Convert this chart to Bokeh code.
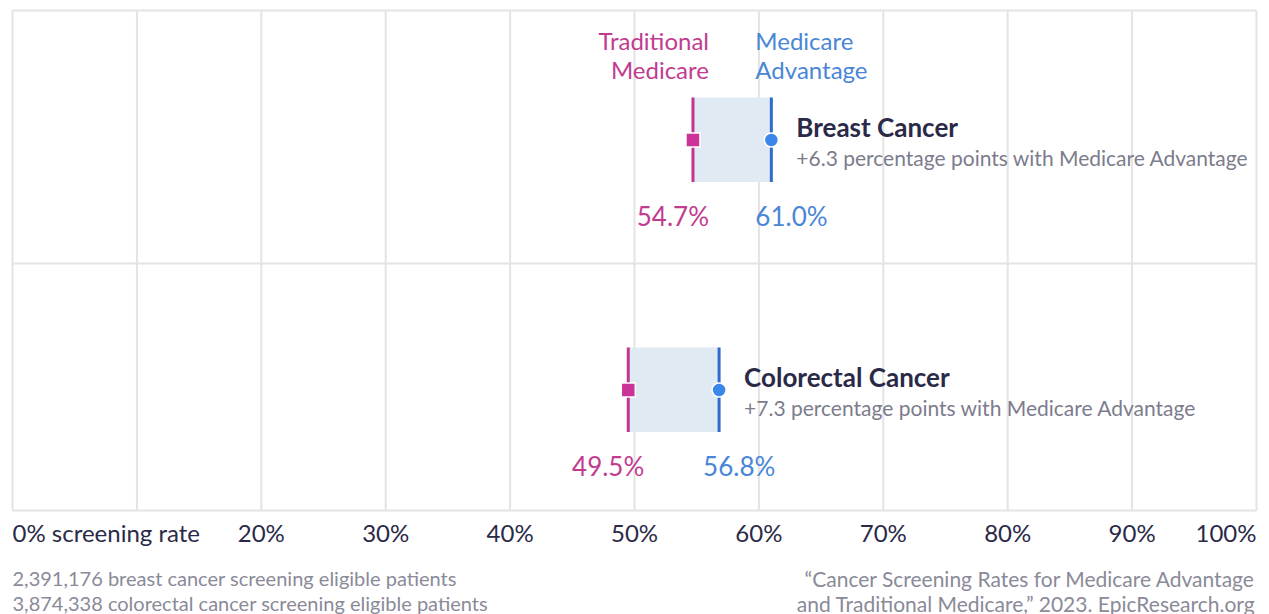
from bokeh.plotting import figure
from bokeh.models import Range1d, ColumnDataSource
from bokeh.core.properties import value
from bokeh.embed import file_html
from bokeh.resources import INLINE

# ---- data ----
categories = ["Breast Cancer", "Colorectal Cancer"]
traditional = [54.7, 49.5]
advantage = [61.0, 56.8]
tick_values = [0, 20, 30, 40, 50, 60, 70, 80, 90, 100]
tick_labels = ["0% screening rate", "20%", "30%", "40%", "50%", "60%", "70%", "80%", "90%", "100%"]
grid_values = [0, 10, 20, 30, 40, 50, 60, 70, 80, 90, 100]
footnote_left = ["2,391,176 breast cancer screening eligible patients",
                 "3,874,338 colorectal cancer screening eligible patients"]
footnote_right = ["\u201cCancer Screening Rates for Medicare Advantage",
                  "and Traditional Medicare,\u201d 2023. EpicResearch.org"]

FONT = value("Lato")
MAGENTA = "#c2368f"
MAGENTA_TXT = "#c13c90"
BLUE = "#2f6bcc"
BLUE_DOT = "#3a86ea"
BLUE_TXT = "#4a86d6"
NAVY = "#2a2a48"
GRAY = "#7c7c8c"
FOOT = "#8a8a98"
GRID = "#e4e4e4"

W, H = 1266, 614
LEFT, RIGHT = 12, 1256
TOP, ROW_H = 10, 250
px_per = (RIGHT - LEFT) / 100
x0 = -LEFT / px_per
x1 = 100 + (W - RIGHT) / px_per
y_top = -TOP / ROW_H
y_bot = (H - TOP) / ROW_H

p = figure(width=W, height=H, output_backend="svg", toolbar_location=None,
           x_range=Range1d(x0, x1), y_range=Range1d(y_bot, y_top),
           min_border=0, outline_line_color=None)
p.axis.visible = False
p.grid.visible = False
p.background_fill_color = "white"
p.border_fill_color = "white"

n = len(categories)
rows = list(range(n))
src = ColumnDataSource(dict(
    row=rows,
    cat=categories,
    tm=traditional,
    ma=advantage,
    box_top=[r + 0.348 for r in rows],
    box_bot=[r + 0.686 for r in rows],
    mid=[r + 0.518 for r in rows],
    val_y=[r + 0.82 for r in rows],
    title_y=[r + 0.464 for r in rows],
    sub_y=[r + 0.588 for r in rows],
    tm_lbl=["%.1f%%" % v for v in traditional],
    ma_lbl=["%.1f%%" % v for v in advantage],
    sub=["+%.1f percentage points with Medicare Advantage" % (a - t) for a, t in zip(advantage, traditional)],
))

# grid
p.segment(x0=grid_values, x1=grid_values, y0=[0] * len(grid_values), y1=[n] * len(grid_values),
          line_color=GRID, line_width=2)
p.segment(x0=[0] * (n + 1), x1=[100] * (n + 1), y0=[0, 1.012, 2], y1=[0, 1.012, 2],
          line_color=GRID, line_width=2)

# range boxes
p.quad(left="tm", right="ma", top="box_top", bottom="box_bot", source=src,
       fill_color="#e0eaf3", line_color=None)
p.segment(x0="tm", x1="tm", y0="box_top", y1="box_bot", source=src, line_color=MAGENTA, line_width=3)
p.segment(x0="ma", x1="ma", y0="box_top", y1="box_bot", source=src, line_color=BLUE, line_width=3)
p.scatter(x="tm", y="mid", source=src, marker="square", size=14, fill_color="#cc3399",
          line_color="white", line_width=1.5)
p.scatter(x="ma", y="mid", source=src, marker="circle", size=14, fill_color=BLUE_DOT,
          line_color="white", line_width=1.5)

# value labels
p.text(x="tm", y="val_y", text="tm_lbl", source=src, text_font=FONT, text_font_size="26px",
       text_color=MAGENTA_TXT, text_align="right", text_baseline="middle", x_offset=16)
p.text(x="ma", y="val_y", text="ma_lbl", source=src, text_font=FONT, text_font_size="26px",
       text_color=BLUE_TXT, text_align="left", text_baseline="middle", x_offset=-16)

# category titles
p.text(x="ma", y="title_y", text="cat", source=src, text_font=FONT, text_font_size="26px",
       text_font_style="bold", text_color=NAVY, text_align="left", text_baseline="middle", x_offset=25)
p.text(x="ma", y="sub_y", text="sub", source=src, text_font=FONT, text_font_size="21px",
       text_color=GRAY, text_align="left", text_baseline="middle", x_offset=25)

# series headers (above first row)
p.text(x=[traditional[0]] * 2, y=[0.12, 0.236], text=["Traditional", "Medicare"], text_font=FONT,
       text_font_size="24px", text_color=MAGENTA_TXT, text_align="right", text_baseline="middle", x_offset=16)
p.text(x=[advantage[0]] * 2, y=[0.12, 0.236], text=["Medicare", "Advantage"], text_font=FONT,
       text_font_size="24px", text_color=BLUE_TXT, text_align="left", text_baseline="middle", x_offset=-16)

# tick labels
aligns = ["left"] + ["center"] * (len(tick_values) - 2) + ["right"]
p.text(x=tick_values, y=[n + 0.088] * len(tick_values), text=tick_labels, text_align=aligns,
       text_font=FONT, text_font_size="24px", text_color=NAVY, text_baseline="middle")

# footnotes
p.text(x=[0, 0], y=[n + 0.270, n + 0.370], text=footnote_left, text_font=FONT, text_font_size="20px",
       text_color=FOOT, text_align="left", text_baseline="middle")
p.text(x=[100, 100], y=[n + 0.270, n + 0.370], text=footnote_right, text_font=FONT, text_font_size="21px",
       text_color=FOOT, text_align="right", text_baseline="middle", x_offset=-1)

open("out.html", "w").write(file_html(p, INLINE))
